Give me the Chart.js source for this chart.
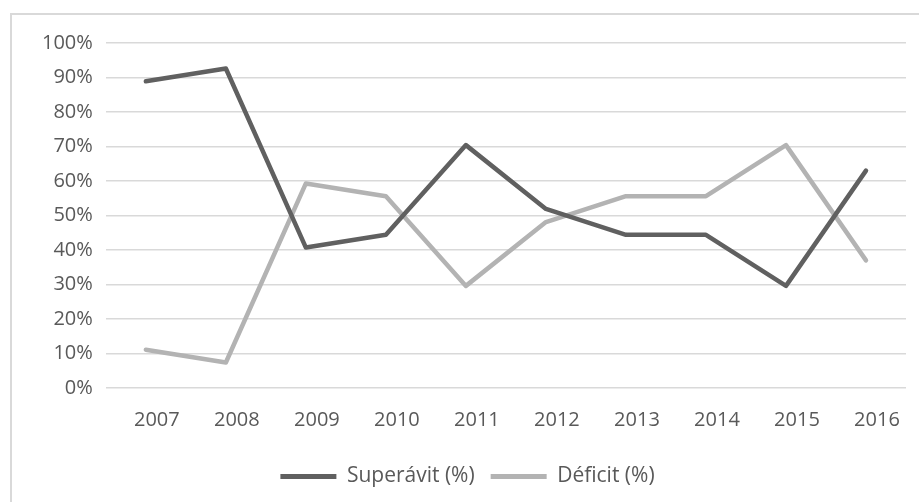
<!DOCTYPE html>
<html>
<head>
<meta charset="utf-8">
<script src="https://cdn.jsdelivr.net/npm/chart.js@4/dist/chart.umd.min.js"></script>
<style>
  html, body { margin: 0; padding: 0; background: #fff; overflow: hidden; }
  #wrap { position: relative; width: 919px; height: 502px; overflow: hidden; }
  #frame { position: absolute; left: 10px; top: 13px; width: 1000px; height: 600px; border: 2px solid #d9d9d9; box-sizing: border-box; }
  #chart { position: absolute; left: 0; top: 0; }
</style>
</head>
<body>
<div id="wrap">
  <div id="frame"></div>
  <canvas id="chart" width="919" height="502"></canvas>
</div>
<script>
// datos
const years = ['2007', '2008', '2009', '2010', '2011', '2012', '2013', '2014', '2015', '2016'];
const superavit = [88.9, 92.6, 40.7, 44.4, 70.4, 51.9, 44.4, 44.4, 29.6, 63.0];
const deficit = [11.1, 7.4, 59.3, 55.6, 29.6, 48.1, 55.6, 55.6, 70.4, 37.0];
const yTicks = [0, 10, 20, 30, 40, 50, 60, 70, 80, 90, 100];

const DARK = '#606060';
const LIGHT = '#b3b3b3';
const TEXT = '#595959';
const FONT = "'Open Sans', sans-serif";

new Chart(document.getElementById('chart'), {
    type: 'line',
    data: {
        labels: years,
        datasets: [
            { label: 'Superávit (%)', data: superavit, borderColor: DARK, backgroundColor: DARK,
              borderWidth: 4.5, pointRadius: 0, tension: 0, borderJoinStyle: 'round', borderCapStyle: 'round' },
            { label: 'Déficit (%)', data: deficit, borderColor: LIGHT, backgroundColor: LIGHT,
              borderWidth: 4.5, pointRadius: 0, tension: 0, borderJoinStyle: 'round', borderCapStyle: 'round' }
        ]
    },
    options: {
        responsive: false,
        animation: false,
        layout: { padding: { left: 29, right: 13, top: 43, bottom: 5 } },
        plugins: {
            tooltip: { enabled: false },
            legend: {
                position: 'bottom',
                labels: {
                    color: TEXT,
                    font: { family: FONT, size: 21 },
                    boxWidth: 56,
                    boxHeight: 5,
                    padding: 16,
                    generateLabels: chart => Chart.defaults.plugins.legend.labels.generateLabels(chart)
                        .map(l => ({ ...l, lineWidth: 0 }))
                }
            }
        },
        scales: {
            x: {
                offset: true,
                grid: { display: false },
                border: { display: false },
                ticks: { color: TEXT, font: { family: FONT, size: 20 }, padding: 12, labelOffset: 11,
                         maxRotation: 0, autoSkip: false },
                afterFit: axis => { axis.height += 6; }
            },
            y: {
                min: 0,
                max: 100,
                afterBuildTicks: axis => { axis.ticks = yTicks.map(v => ({ value: v })); },
                grid: { color: '#d9d9d9', lineWidth: 1.5, drawTicks: false },
                border: { display: false },
                ticks: { color: TEXT, font: { family: FONT, size: 20 }, padding: 13,
                         callback: v => v + '%' }
            }
        }
    }
});
</script>
</body>
</html>
